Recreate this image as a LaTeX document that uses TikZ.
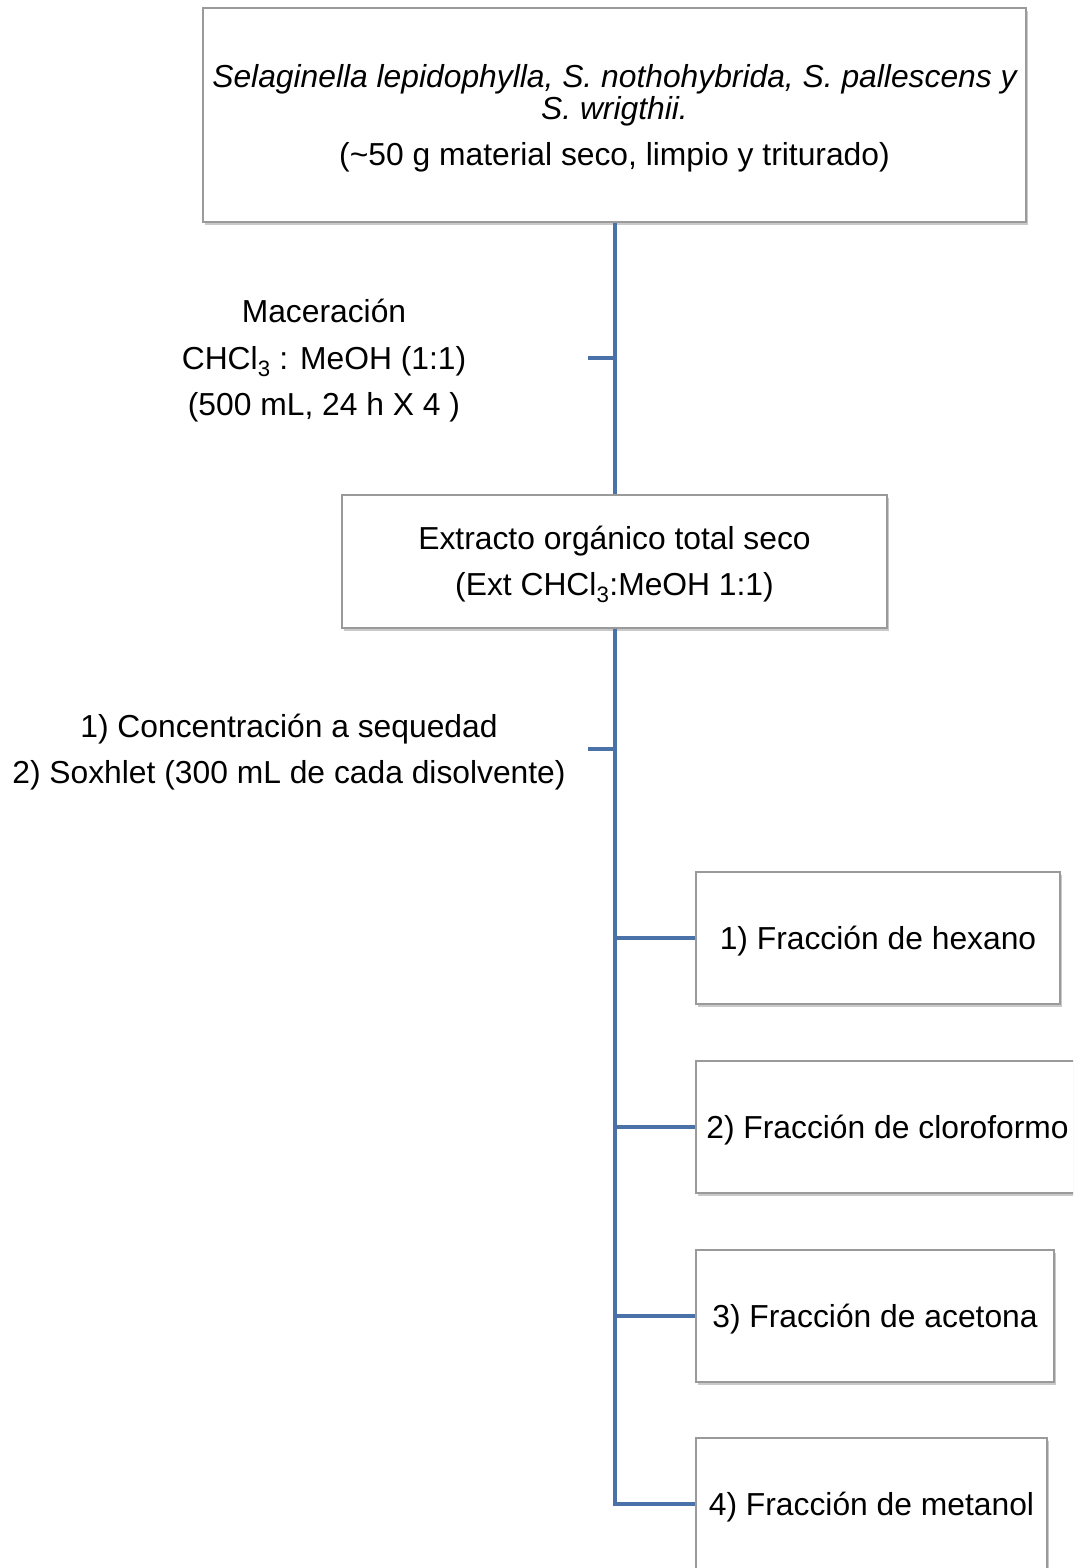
\documentclass[tikz,border=0pt]{standalone}
\usepackage{fontspec}
\setmainfont{Liberation Sans}
\usetikzlibrary{shadows}
\definecolor{lineblue}{HTML}{4A72A9}
\definecolor{boxgray}{HTML}{9A9A9A}
\tikzset{
  box/.style={draw=boxgray, line width=1.2pt, fill=white, rectangle, inner sep=0pt,
    drop shadow={shadow xshift=2pt, shadow yshift=-3pt, opacity=0.35, fill=black!60}},
  txt/.style={align=center, inner sep=0pt, font=\fontsize{31.8}{38}\selectfont},
  conn/.style={draw=lineblue, line width=4pt},
  lbl/.style={align=center, font=\fontsize{31.8}{46.5}\selectfont, inner sep=0pt}
}
\begin{document}
\begin{tikzpicture}[x=1pt, y=-1pt]
\useasboundingbox (0,0) rectangle (1073,1568);
\clip (0,0) rectangle (1073,1568);
\fill[white] (0,0) rectangle (1073,1568);

% boxes
\node[box, minimum width=823pt, minimum height=214pt] (top) at (614.5,115) {};
\node[box, minimum width=545pt, minimum height=133pt] (ext) at (614.5,561.5) {};
\node[box, minimum width=364pt, minimum height=132pt] (f1) at (878,938) {};
\node[box, minimum width=383pt, minimum height=132pt] (f2) at (887.5,1127) {};
\node[box, minimum width=358pt, minimum height=132pt] (f3) at (875,1316) {};
\node[box, minimum width=351pt, minimum height=132pt] (f4) at (871.5,1504) {};

% box texts
\node[txt] (toptxt) at ([yshift=-3pt]top.center)
  {\itshape Selaginella lepidophylla, S. nothohybrida, S. pallescens y\\[-6pt]
   \itshape S. wrigthii.\\[8pt]
   (\char`\~50 g material seco, limpio y triturado)};
\node[txt] (exttxt) at ([yshift=-3pt]ext.center)
  {Extracto orgánico total seco\\[8pt] (Ext CHCl\textsubscript{3}:MeOH 1:1)};
\node[txt] (f1txt) at ([yshift=-3pt]f1.center) {1) Fracción de hexano};
\node[txt] (f2txt) at ([yshift=-3pt]f2.center) {2) Fracción de cloroformo};
\node[txt] (f3txt) at ([yshift=-3pt]f3.center) {3) Fracción de acetona};
\node[txt] (f4txt) at ([yshift=-3pt]f4.center) {4) Fracción de metanol};

% tick coordinates
\coordinate (t1) at (588,358);
\coordinate (t2) at (588,749);

% connectors
\draw[conn] (top.south) -- (ext.north);
\draw[conn] (t1) -- (t1 -| top.south);
\draw[conn] (t2) -- (t2 -| ext.south);
\draw[conn] (ext.south) |- (f1.west);
\draw[conn] (ext.south) |- (f2.west);
\draw[conn] (ext.south) |- (f3.west);
\draw[conn, line join=miter] (ext.south) |- (f4.west);

% labels
\node[lbl] (mac) at (324,361) {Maceración\\CHCl\textsubscript{3} : MeOH (1:1)\\(500 mL, 24 h X 4 )};
\node[lbl] (sox) at (289,752) {1) Concentración a sequedad\\2) Soxhlet (300 mL de cada disolvente)};
\end{tikzpicture}
\end{document}
